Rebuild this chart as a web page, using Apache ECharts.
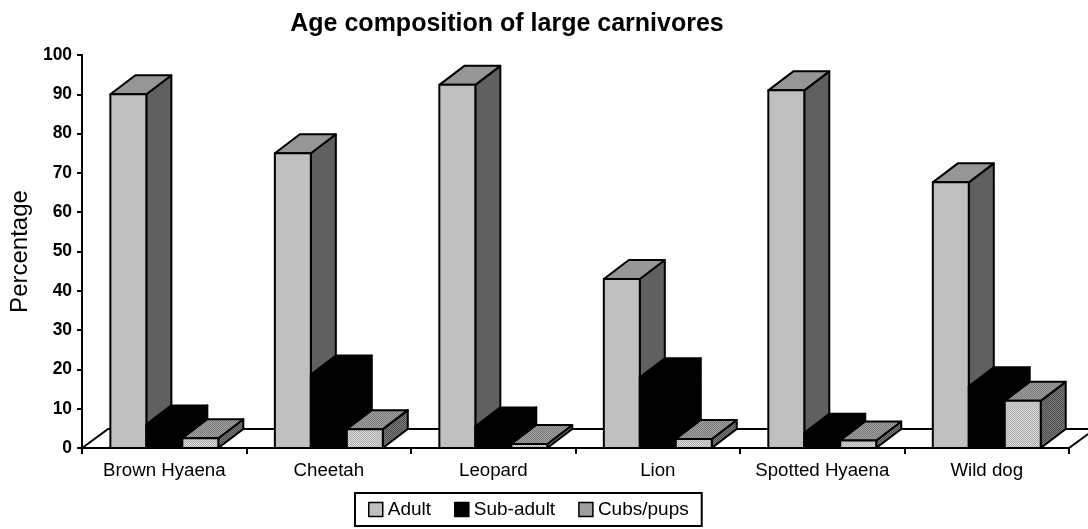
<!DOCTYPE html>
<html>
<head>
<meta charset="utf-8">
<script src="https://cdn.jsdelivr.net/npm/echarts@6/dist/echarts.min.js"></script>
<style>html,body{margin:0;padding:0;background:#fff;}#chart{width:1088px;height:529px;}</style>
</head>
<body>
<div id="chart"></div>
<script>
const categories = ['Brown Hyaena', 'Cheetah', 'Leopard', 'Lion', 'Spotted Hyaena', 'Wild dog'];
const seriesNames = ['Adult', 'Sub-adult', 'Cubs/pups'];
const adult = [90, 75, 92.4, 43, 91, 67.6];
const subAdult = [6, 18.7, 5.5, 18, 3.9, 15.7];
const cubs = [2.5, 4.8, 1.0, 2.3, 1.9, 12.0];
const yTicks = { min: 0, max: 100, interval: 10 };

const FONT = 'Liberation Sans, Arial, sans-serif';
const DX = 25, DY = 19;      // bar depth
const FDX = 26, FDY = 19;    // floor depth
const BAR_FRAC = 36 / 164.6; // bar width as fraction of category band

function makePattern(c1, c2) {
  const cv = document.createElement('canvas');
  cv.width = 4; cv.height = 4;
  const ctx = cv.getContext('2d');
  ctx.fillStyle = c1; ctx.fillRect(0, 0, 4, 4);
  ctx.fillStyle = c2;
  for (let y = 0; y < 4; y++) for (let x = 0; x < 4; x++) if ((x + y) % 2 === 0) ctx.fillRect(x, y, 1, 1);
  return { image: cv, repeat: 'repeat' };
}

const styles = [
  { front: '#c0c0c0', top: '#969696', side: '#606060' },
  { front: '#000000', top: '#000000', side: '#000000' },
  { front: makePattern('#dadada', '#acacac'), top: makePattern('#a4a4a4', '#787878'), side: makePattern('#7c7c7c', '#4c4c4c') }
];

function barRenderer(idx) {
  return function (params, api) {
    const cat = api.value(0), val = api.value(1);
    const p = api.coord([cat, val]);
    const p0 = api.coord([cat, 0]);
    const band = api.size([1, 0])[0];
    const bw = band * BAR_FRAC;
    const x0 = p[0] - 1.5 * bw + idx * bw, x1 = x0 + bw;
    const yt = p[1], yb = p0[1];
    const st = styles[idx];
    const line = { stroke: '#000', lineWidth: 2, lineJoin: 'round' };
    return {
      type: 'group',
      children: [
        { type: 'polygon', shape: { points: [[x1, yt], [x1 + DX, yt - DY], [x1 + DX, yb - DY], [x1, yb]] }, style: Object.assign({ fill: st.side }, line) },
        { type: 'polygon', shape: { points: [[x0, yt], [x0 + DX, yt - DY], [x1 + DX, yt - DY], [x1, yt]] }, style: Object.assign({ fill: st.top }, line) },
        { type: 'rect', shape: { x: x0, y: yt, width: bw, height: yb - yt }, style: Object.assign({ fill: st.front }, line) }
      ]
    };
  };
}

const valueSets = [adult, subAdult, cubs];

const chart = echarts.init(document.getElementById('chart'), null, { renderer: 'canvas' });
chart.setOption({
  animation: false,
  backgroundColor: '#fff',
  title: {
    text: 'Age composition of large carnivores',
    left: 502, top: 7, textAlign: 'center',
    textStyle: { fontFamily: FONT, fontSize: 25, fontWeight: 'bold', color: '#000' }
  },
  legend: {
    data: [
      { name: 'Adult', itemStyle: { color: '#c0c0c0', borderColor: '#000', borderWidth: 1.5 } },
      { name: 'Sub-adult', itemStyle: { color: '#000', borderColor: '#000', borderWidth: 1.5 } },
      { name: 'Cubs/pups', itemStyle: { color: makePattern('#b4b4b4', '#888888'), borderColor: '#000', borderWidth: 1.5 } }
    ],
    icon: 'rect',
    left: 355, top: 493,
    itemWidth: 14, itemHeight: 14, itemGap: 23,
    padding: [7, 13, 7, 13],
    borderColor: '#000', borderWidth: 2,
    textStyle: { fontFamily: FONT, fontSize: 19, color: '#000' }
  },
  grid: { left: 81, right: 19, top: 55, bottom: 81, containLabel: false },
  xAxis: {
    type: 'category',
    data: categories,
    boundaryGap: true,
    axisLine: { show: true, lineStyle: { color: '#000', width: 2 } },
    axisTick: { show: true, length: 6, lineStyle: { color: '#000', width: 2 } },
    axisLabel: { margin: 13, fontFamily: FONT, fontSize: 18.7, color: '#000', interval: 0 },
    splitLine: { show: false }
  },
  yAxis: {
    type: 'value',
    min: yTicks.min, max: yTicks.max, interval: yTicks.interval,
    name: 'Percentage', nameLocation: 'middle', nameGap: 47,
    nameTextStyle: { fontFamily: FONT, fontSize: 24, color: '#000' },
    axisLine: { show: true, lineStyle: { color: '#000', width: 2 } },
    axisTick: { show: true, length: 5, lineStyle: { color: '#000', width: 2 } },
    axisLabel: { margin: 10, fontFamily: FONT, fontSize: 17.5, fontWeight: 'bold', color: '#000' },
    splitLine: { show: false }
  },
  series: [
    {
      type: 'custom', name: 'floor', clip: false, silent: true, z: 1,
      data: [[0, 0]],
      renderItem: function (params, api) {
        const cs = params.coordSys;
        const yb = cs.y + cs.height;
        return {
          type: 'polygon',
          shape: { points: [[cs.x, yb], [cs.x + FDX, yb - FDY], [cs.x + cs.width + FDX, yb - FDY], [cs.x + cs.width, yb]] },
          style: { fill: '#fff', stroke: '#000', lineWidth: 2 }
        };
      }
    }
  ].concat(seriesNames.map(function (name, i) {
    return {
      type: 'custom', name: name, clip: false, z: 2,
      itemStyle: { color: i === 0 ? '#c0c0c0' : (i === 1 ? '#000' : '#c8c8c8') },
      encode: { x: 0, y: 1 },
      data: valueSets[i].map(function (v, k) { return [k, v]; }),
      renderItem: barRenderer(i)
    };
  }))
});
</script>
</body>
</html>
